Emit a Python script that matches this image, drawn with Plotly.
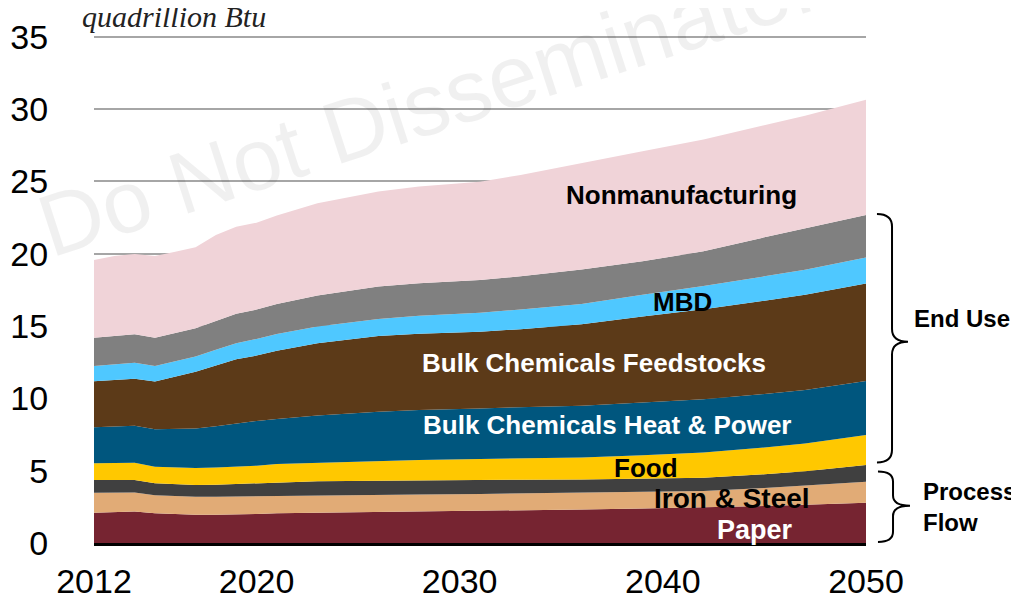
import plotly.graph_objects as go

years = [2012, 2013, 2014, 2015, 2016, 2017, 2018, 2019, 2020, 2021, 2023,
         2026, 2028, 2031, 2033, 2036, 2039, 2042, 2045, 2047, 2050]

paper = [2.10, 2.14, 2.17, 2.05, 2.00, 1.96, 1.96, 1.97, 2.01, 2.05, 2.08,
         2.12, 2.16, 2.21, 2.25, 2.32, 2.38, 2.45, 2.56, 2.64, 2.79]
iron_steel = [1.38, 1.36, 1.33, 1.25, 1.24, 1.24, 1.24, 1.24, 1.24, 1.23, 1.22,
              1.20, 1.19, 1.18, 1.17, 1.14, 1.14, 1.15, 1.25, 1.34, 1.45]
other_process = [0.88, 0.86, 0.86, 0.83, 0.81, 0.81, 0.83, 0.87, 0.92, 0.94, 0.97,
                 0.99, 0.99, 0.97, 0.96, 0.94, 0.93, 0.92, 0.94, 0.98, 1.15]
food = [1.15, 1.17, 1.19, 1.15, 1.17, 1.18, 1.19, 1.20, 1.18, 1.24, 1.28,
        1.36, 1.40, 1.45, 1.46, 1.52, 1.62, 1.73, 1.85, 1.92, 2.08]
chem_heat_power = [2.49, 2.53, 2.56, 2.58, 2.65, 2.72, 2.86, 3.00, 3.09, 3.12, 3.26,
                   3.41, 3.46, 3.50, 3.55, 3.58, 3.64, 3.69, 3.70, 3.70, 3.73]
chem_feedstocks = [3.18, 3.22, 3.25, 3.30, 3.62, 3.94, 4.20, 4.43, 4.52, 4.72, 5.00,
                   5.23, 5.27, 5.30, 5.40, 5.62, 5.95, 6.22, 6.45, 6.58, 6.75]
mbd = [1.06, 1.09, 1.11, 1.08, 1.06, 1.04, 1.08, 1.11, 1.15, 1.15, 1.16,
       1.18, 1.24, 1.31, 1.36, 1.40, 1.50, 1.61, 1.69, 1.74, 1.80]
other_mfg = [1.96, 1.96, 1.96, 1.96, 1.96, 1.96, 2.00, 2.03, 2.03, 2.07, 2.15,
             2.24, 2.25, 2.26, 2.30, 2.40, 2.32, 2.40, 2.70, 2.85, 2.93]
nonmanufacturing = [5.37, 5.52, 5.56, 5.65, 5.64, 5.60, 5.94, 6.02, 6.01, 6.13, 6.38,
                    6.57, 6.69, 6.81, 7.00, 7.38, 7.62, 7.73, 7.76, 7.80, 7.98]

x_ticks = [2012, 2020, 2030, 2040, 2050]

series = [
    ("Paper", paper, "#762431"),
    ("Iron & Steel", iron_steel, "#E1AB76"),
    ("Other process flow", other_process, "#404040"),
    ("Food", food, "#FFC800"),
    ("Bulk Chemicals Heat & Power", chem_heat_power, "#00567E"),
    ("Bulk Chemicals Feedstocks", chem_feedstocks, "#5C3A18"),
    ("MBD", mbd, "#4FC8FF"),
    ("Other manufacturing", other_mfg, "#808080"),
    ("Nonmanufacturing", nonmanufacturing, "#F0D3D8"),
]

fig = go.Figure()
for name, vals, color in series:
    fig.add_trace(go.Scatter(
        x=years, y=vals, name=name,
        mode="lines", stackgroup="one",
        line=dict(width=0, color=color),
        fillcolor=color,
        hoverinfo="skip",
    ))

SANS = "Liberation Sans, Arial, sans-serif"

# in-chart labels (data coords)
labels = [
    ("Nonmanufacturing", 2040.94, 24.07, "black", 26),
    ("MBD", 2040.99, 16.67, "black", 26),
    ("Bulk Chemicals Feedstocks", 2036.61, 12.45, "white", 26),
    ("Bulk Chemicals Heat & Power", 2037.25, 8.16, "white", 26),
    ("Food", 2039.17, 5.19, "black", 26),
    ("Iron &amp; Steel", 2043.40, 3.11, "black", 28),
    ("Paper", 2044.54, 0.90, "white", 27),
]
for text, lx, ly, col, sz in labels:
    fig.add_annotation(x=lx, y=ly, xref="x", yref="y", text=f"<b>{text}</b>",
                       showarrow=False, font=dict(family=SANS, size=sz, color=col))

# watermark
fig.add_annotation(x=0.4288, y=0.861, xref="paper", yref="paper",
                   xanchor="center", yanchor="middle",
                   text="Do Not Disseminate.", showarrow=False, textangle=-18,
                   font=dict(family=SANS, size=88, color="rgba(0,0,0,0.06)"))

# unit label
fig.add_annotation(x=-0.018, y=1.0336, xref="paper", yref="paper", xanchor="left",
                   yanchor="middle",
                   text="<i>quadrillion Btu</i>", showarrow=False,
                   font=dict(family="Liberation Serif, Times New Roman, serif",
                             size=30, color="#222222"))


def brace(x0, x1, x2, top, tip, bot, dy=0.025):
    return (f"M {x0},{top} Q {x1},{top} {x1},{top - dy} "
            f"L {x1},{tip + dy} Q {x1},{tip} {x2},{tip} "
            f"Q {x1},{tip} {x1},{tip - dy} "
            f"L {x1},{bot + dy} Q {x1},{bot} {x0},{bot}")


fig.add_shape(type="path", xref="paper", yref="paper",
              path=brace(1.0142, 1.0337, 1.0544, 0.6462, 0.3953, 0.1581),
              line=dict(color="black", width=2))
fig.add_shape(type="path", xref="paper", yref="paper",
              path=brace(1.0155, 1.035, 1.057, 0.1403, 0.0731, 0.002, dy=0.02),
              line=dict(color="black", width=2))

fig.add_annotation(x=1.0596, y=0.441, xref="paper", yref="paper", xanchor="left",
                   yanchor="middle",
                   text="<b>End Use</b>", showarrow=False,
                   font=dict(family=SANS, size=24, color="black"))
fig.add_annotation(x=1.0712, y=0.0711, xref="paper", yref="paper", xanchor="left",
                   yanchor="middle",
                   text="<b>Process<br>Flow</b>", showarrow=False, align="left",
                   font=dict(family=SANS, size=24, color="black"))

# the page puts the figure 8px in from the top-left corner
fig.update_layout(
    width=1011, height=594,
    margin=dict(l=86, r=153, t=26, b=59, autoexpand=False),
    paper_bgcolor="white", plot_bgcolor="white",
    showlegend=False,
    xaxis=dict(range=[2012, 2050], tickvals=x_ticks, automargin=False,
               showgrid=False, zeroline=False,
               showline=True, linecolor="black", linewidth=2.5,
               ticks="outside", ticklen=6, tickcolor="rgba(0,0,0,0)",
               tickfont=dict(family=SANS, size=34, color="black")),
    yaxis=dict(range=[0, 35.2], tickvals=[0, 5, 10, 15, 20, 25, 30, 35],
               showgrid=True, automargin=False,
               gridcolor="#A6A6A6", gridwidth=1.5, zeroline=False,
               ticks="outside", ticklen=38, tickcolor="rgba(0,0,0,0)",
               tickfont=dict(family=SANS, size=34, color="black")),
)

fig.write_html("out.html")
